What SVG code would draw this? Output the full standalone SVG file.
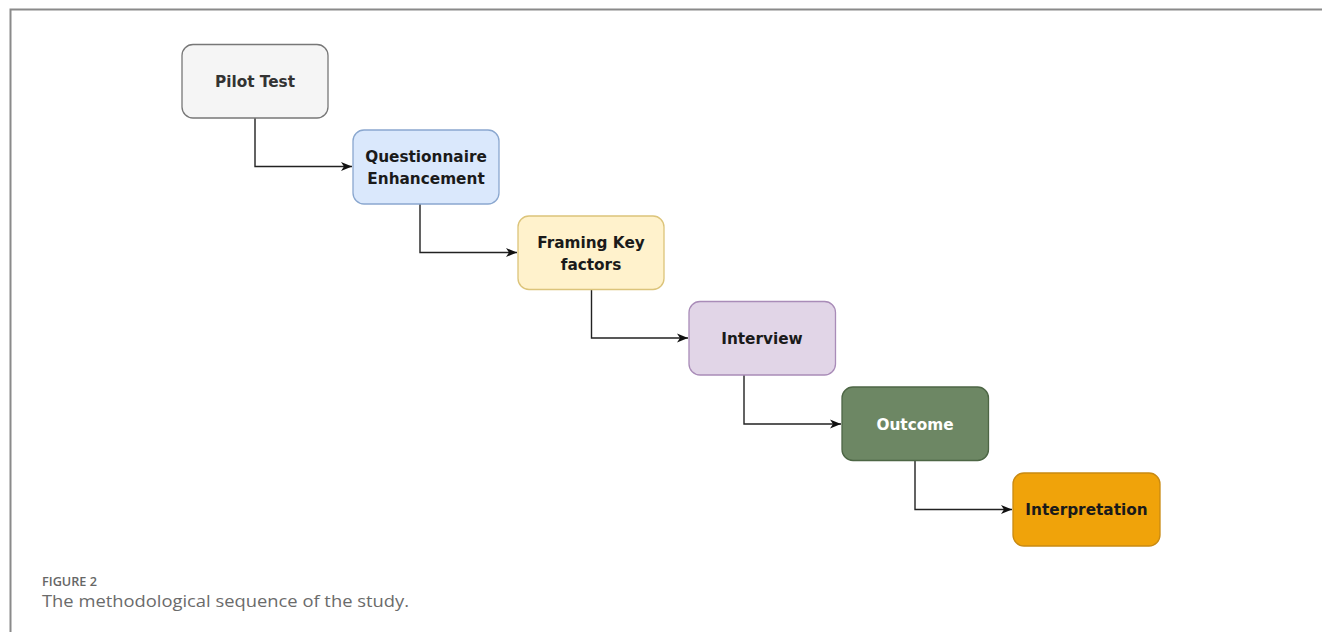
<svg xmlns="http://www.w3.org/2000/svg" width="1322" height="632" viewBox="0 0 1322 632">
<defs>
<style>
.lbl{font-family:"DejaVu Sans","Liberation Sans",sans-serif;font-weight:bold;font-size:15.3px;text-anchor:middle;dominant-baseline:central;fill:#1a1a1a}
.box{stroke-width:1.3}
.conn{fill:none;stroke:#222;stroke-width:1.4}
</style>
<marker id="arr" markerWidth="12" markerHeight="10" refX="11" refY="5" orient="auto" markerUnits="userSpaceOnUse">
<path d="M0,0.5 L11,5 L0,9.5 L3,5 Z" fill="#111"/>
</marker>
</defs>
<rect width="1322" height="632" fill="#fff"/>
<path d="M10.5,632 V9.5 H1322" fill="none" stroke="#8a8a8a" stroke-width="2"/>
<g id="connectors">
<path class="conn" d="M255,118 V166.5 H352" marker-end="url(#arr)"/>
<path class="conn" d="M420,204 V252.5 H517" marker-end="url(#arr)"/>
<path class="conn" d="M591.5,289 V338 H688" marker-end="url(#arr)"/>
<path class="conn" d="M744,375 V424 H841" marker-end="url(#arr)"/>
<path class="conn" d="M915,460 V509.5 H1012" marker-end="url(#arr)"/>
</g>
<g id="pilot-test">
<rect class="box" x="182" y="44.5" width="146" height="73.5" rx="11" fill="#f5f5f5" stroke="#777"/>
<text class="lbl" x="255" y="81.5" style="fill:#333">Pilot Test</text>
</g>
<g id="questionnaire-enhancement">
<rect class="box" x="353" y="130" width="146" height="74" rx="11" fill="#dae8fc" stroke="#8aa7cf"/>
<text class="lbl" x="426" y="157">Questionnaire</text>
<text class="lbl" x="426" y="179">Enhancement</text>
</g>
<g id="framing-key-factors">
<rect class="box" x="518" y="216" width="146" height="73.5" rx="11" fill="#fff2cc" stroke="#dcc47a"/>
<text class="lbl" x="591" y="242.5">Framing Key</text>
<text class="lbl" x="591" y="264.5">factors</text>
</g>
<g id="interview">
<rect class="box" x="689" y="301.5" width="146.5" height="73.5" rx="11" fill="#e1d5e7" stroke="#a98cb8"/>
<text class="lbl" x="762" y="338.5">Interview</text>
</g>
<g id="outcome">
<rect class="box" x="842" y="387" width="146.5" height="73.5" rx="11" fill="#6d8764" stroke="#4d6645"/>
<text class="lbl" x="915" y="424.5" style="fill:#fff">Outcome</text>
</g>
<g id="interpretation">
<rect class="box" x="1013" y="473" width="147" height="73" rx="11" fill="#f0a30a" stroke="#c98a12"/>
<text class="lbl" x="1086.5" y="510">Interpretation</text>
</g>
<g id="caption">
<text x="42" y="586" font-family="'Open Sans','Liberation Sans',sans-serif" font-weight="600" font-size="13" fill="#666" textLength="55" lengthAdjust="spacingAndGlyphs">FIGURE 2</text>
<text x="42" y="607" font-family="'Open Sans','Liberation Sans',sans-serif" font-size="17" fill="#6b6b6b" textLength="367" lengthAdjust="spacingAndGlyphs">The methodological sequence of the study.</text>
</g>
</svg>
